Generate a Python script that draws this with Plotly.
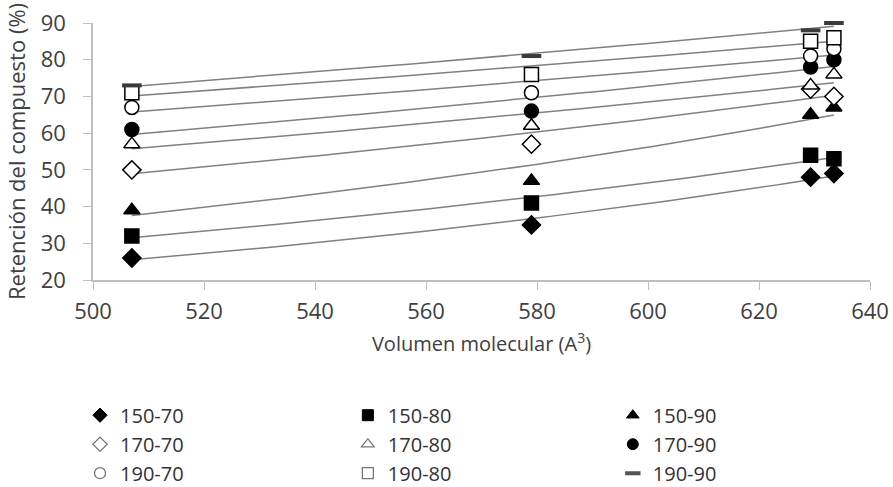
import numpy as np
import plotly.graph_objects as go

volumen = [507.0, 579.0, 629.3, 633.5]

series_names = ["150-70", "150-80", "150-90",
                "170-70", "170-80", "170-90",
                "190-70", "190-80", "190-90"]

r_150_70 = [26, 35, 48, 49]
r_150_80 = [32, 41, 54, 53]
r_150_90 = [39, 47, 65, 67]
r_170_70 = [50, 57, 72, 70]
r_170_80 = [57, 62, 73, 76]
r_170_90 = [61, 66, 78, 80]
r_190_70 = [67, 71, 81, 83]
r_190_80 = [71, 76, 85, 86]
r_190_90 = [73, 81, 88, 90]

values = [r_150_70, r_150_80, r_150_90,
          r_170_70, r_170_80, r_170_90,
          r_190_70, r_190_80, r_190_90]

symbols = ["diamond", "square", "triangle-up",
           "diamond", "triangle-up", "circle",
           "circle", "square", "line-ew"]
filled = [True, True, True,
          False, False, True,
          False, False, True]
legend_ids = ["legend", "legend2", "legend3",
              "legend", "legend2", "legend3",
              "legend", "legend2", "legend3"]

fig = go.Figure()

# exponential trendlines (Excel style), computed from the data
x = np.array(volumen)
xs = np.linspace(x.min(), x.max(), 100)
for name, ys in zip(series_names, values):
    b, a = np.polyfit(x, np.log(np.array(ys, dtype=float)), 1)
    fig.add_trace(go.Scatter(x=xs, y=np.exp(a + b * xs), mode="lines",
                             line=dict(color="#808080", width=1.5),
                             showlegend=False, hoverinfo="skip"))

# data markers
for name, ys, sym, fl in zip(series_names, values, symbols, filled):
    if sym == "line-ew":
        marker = dict(symbol=sym, size=14, line=dict(color="#3a3a3a", width=4))
    else:
        marker = dict(symbol=sym, size=14, color="black" if fl else "white",
                      line=dict(color="black", width=1.5))
    fig.add_trace(go.Scatter(x=volumen, y=ys, mode="markers", name=name,
                             marker=marker, showlegend=False, cliponaxis=False))

# legend entries (smaller symbols, as in the reference legend)
for name, sym, fl, lg in zip(series_names, symbols, filled, legend_ids):
    if sym == "line-ew":
        marker = dict(symbol=sym, size=11, line=dict(color="#555555", width=4))
    elif fl:
        marker = dict(symbol=sym, size=11, color="black",
                      line=dict(color="black", width=1))
    else:
        marker = dict(symbol=sym, size=11, color="white",
                      line=dict(color="#777777", width=1.3))
    fig.add_trace(go.Scatter(x=[None], y=[None], mode="markers", name=name,
                             marker=marker, legend=lg, legendgroup=name,
                             hoverinfo="skip"))

tick_font = dict(family="Open Sans", size=22, color="#404040")
leg_font = dict(family="Open Sans", size=20, color="#333333")
leg_common = dict(orientation="v", y=-0.4502, yanchor="top", xanchor="left",
                  tracegroupgap=0, font=leg_font, bgcolor="rgba(0,0,0,0)")

fig.update_layout(
    width=893, height=487,
    margin=dict(l=93, r=23, t=23, b=207, autoexpand=False),
    paper_bgcolor="white", plot_bgcolor="white",
    font=dict(family="Open Sans", size=15, color="#333333"),
    xaxis=dict(range=[500, 640], dtick=20, tick0=500, showgrid=False,
               zeroline=False, showline=True, linecolor="#bfbfbf", linewidth=1.5,
               ticks="outside", ticklen=8, tickcolor="#bfbfbf",
               tickfont=tick_font, ticklabelstandoff=3,
               title=dict(text="Volumen molecular (A<sup>3</sup>)",
                          font=dict(family="Open Sans", size=20, color="#404040"),
                          standoff=13)),
    yaxis=dict(range=[20, 90], dtick=10, tick0=20, showgrid=False,
               zeroline=False, showline=True, linecolor="#bfbfbf", linewidth=1.5,
               ticks="outside", ticklen=8, tickcolor="#bfbfbf",
               tickfont=tick_font, ticklabelstandoff=13,
               title=dict(text="Retención del compuesto (%)",
                          font=dict(family="Open Sans", size=22, color="#404040"),
                          standoff=9)),
    legend=dict(x=-0.0167, **leg_common),
    legend2=dict(x=0.328, **leg_common),
    legend3=dict(x=0.669, **leg_common),
    showlegend=True,
)

fig.write_html("out.html",
               config={"displayModeBar": False},
               post_script="document.body.style.margin='0px';"
                           "document.body.style.overflow='hidden';")
